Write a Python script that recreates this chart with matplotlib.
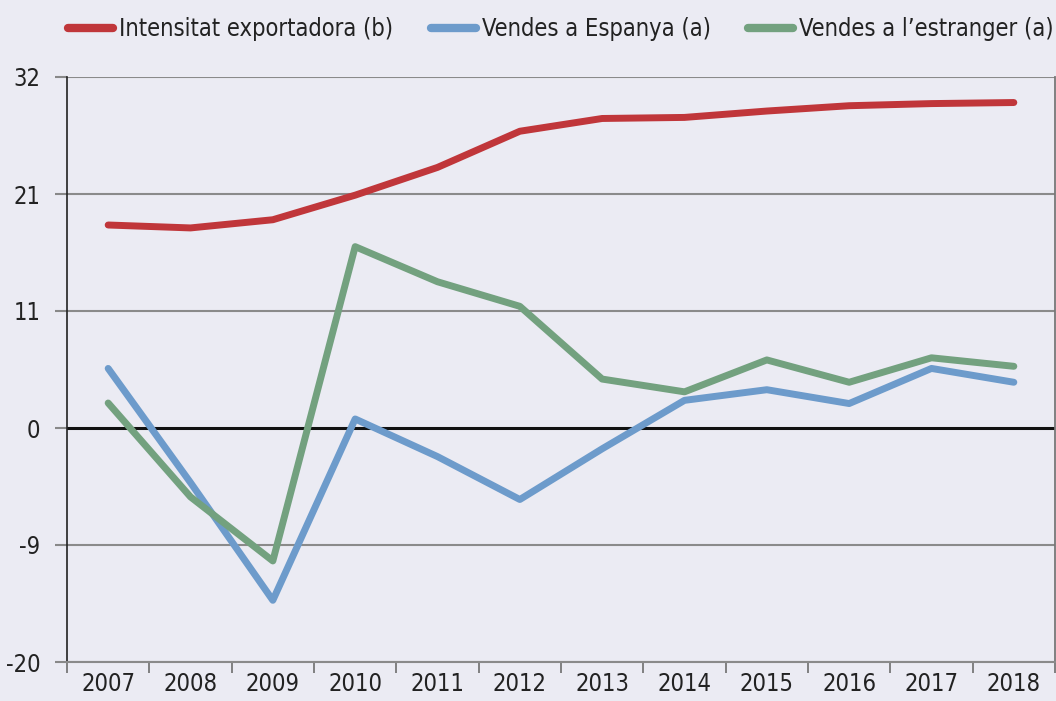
import matplotlib
matplotlib.use("Agg")
import matplotlib.pyplot as plt
import numpy as np
from matplotlib import font_manager
import glob

years = ["2007", "2008", "2009", "2010", "2011", "2012", "2013", "2014", "2015", "2016", "2017", "2018"]
intensitat = [18.35, 18.1, 18.8, 20.9, 23.5, 26.9, 28.1, 28.2, 28.8, 29.3, 29.5, 29.6]
espanya = [5.6, -4.2, -14.2, 0.85, -2.2, -5.5, -1.6, 2.6, 3.6, 2.3, 5.6, 4.3]
estranger = [2.35, -5.3, -10.5, 16.5, 13.5, 11.4, 4.6, 3.4, 6.4, 4.3, 6.6, 5.8]
ytick_vals = [-20, -9, 0, 11, 21, 32]
labels = ["Intensitat exportadora (b)", "Vendes a Espanya (a)", "Vendes a l\u2019estranger (a)"]

# look for a condensed sans font
cand = None
files = [f.fname for f in font_manager.fontManager.ttflist]
files += glob.glob("/usr/share/fonts/**/*.ttf", recursive=True)
prefs = ["LiberationSansNarrow-Regular", "DejaVuSansCondensed.ttf", "Roboto_Condensed", "RobotoCondensed-Regular",
         "OpenSans_Condensed", "OpenSans-CondensedRegular", "NotoSans-CondensedRegular", "Condensed-Regular", "Condensed.ttf"]
for p in prefs:
    for f in files:
        if p in f and "Bold" not in f and "Oblique" not in f and "Italic" not in f:
            cand = f
            break
    if cand:
        break
if cand:
    fp = font_manager.FontProperties(fname=cand)
    fs = 17
else:
    fp = font_manager.FontProperties(family="Roboto")
    fs = 15

bg = "#EBEBF3"
fig = plt.figure(figsize=(10.56, 7.01), dpi=100, facecolor=bg)
ax = fig.add_axes([67/1056, 1-662/701, 988/1056, 585/701])
ax.set_facecolor(bg)

pos = np.arange(len(ytick_vals), dtype=float)
fwd = lambda y: np.interp(y, ytick_vals, pos)
inv = lambda p: np.interp(p, pos, ytick_vals)
ax.set_yscale('function', functions=(fwd, inv))
ax.set_ylim(-20, 32)

x = np.arange(len(years))
cols = ["#C0363A", "#6D9BCB", "#73A17F"]
for series, c, lab in zip([intensitat, espanya, estranger], cols, labels):
    ax.plot(x, series, color=c, lw=5, label=lab, solid_capstyle='round', zorder=3)

ax.set_xlim(-0.5, len(years) - 0.5)
ax.set_xticks(x)
ax.set_xticklabels(years)
ax.set_xticks(np.arange(-0.5, len(years)), minor=True)
ax.tick_params(axis='x', which='major', length=0, pad=7)
ax.tick_params(axis='x', which='minor', length=8, width=1.3, color="#777777", direction='out')

ax.set_yticks(ytick_vals)
ax.set_yticklabels([str(v) for v in ytick_vals])
ax.yaxis.set_minor_locator(matplotlib.ticker.NullLocator())
ax.tick_params(axis='y', length=9, width=1.5, color="#888888", pad=10)
for t in ax.get_xticklabels() + ax.get_yticklabels():
    t.set_fontproperties(fp)
    t.set_fontsize(fs)
    t.set_color("#222222")
for v in ytick_vals:
    if v == 0:
        ax.axhline(v, color="#111111", lw=2.2, zorder=2)
    else:
        ax.axhline(v, color="#8A8A8A", lw=1.5, zorder=1)

ax.spines['left'].set_color('#222222')
ax.spines['left'].set_linewidth(1.2)
ax.spines['right'].set_color('#777777')
ax.spines['right'].set_linewidth(1.3)
ax.spines['bottom'].set_color('#8A8A8A')
ax.spines['bottom'].set_linewidth(1.5)
ax.spines['top'].set_visible(False)

lfp = fp.copy()
lfp.set_size(fs)
leg = ax.legend(loc='lower center', bbox_to_anchor=(0.5, 1.045), ncol=3, frameon=False,
                prop=lfp, handlelength=1.9, handletextpad=0.25, columnspacing=1.6,
                borderaxespad=0)
for h in leg.get_lines():
    h.set_linewidth(6)
for t in leg.get_texts():
    t.set_color("#222222")

fig.savefig("out.png", dpi=100, facecolor=bg)
